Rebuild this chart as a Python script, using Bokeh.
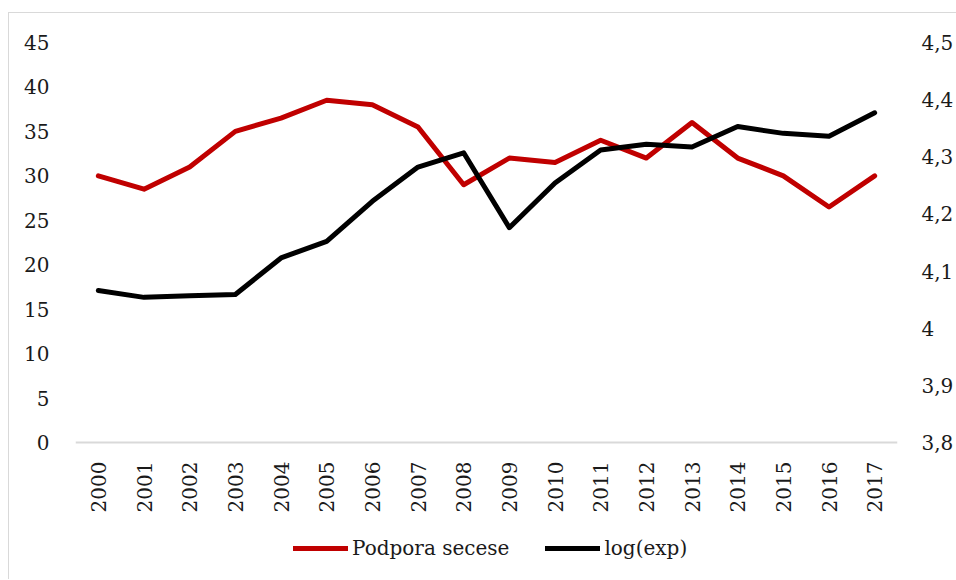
from bokeh.plotting import figure
from bokeh.models import (FactorRange, Range1d, LinearAxis, CategoricalAxis, FixedTicker,
                          CustomJSTickFormatter, Legend, LegendItem, ColumnDataSource)
from bokeh.embed import file_html
from bokeh.resources import INLINE

years = [str(y) for y in range(2000, 2018)]
podpora = [30, 28.5, 31, 35, 36.5, 38.5, 38, 35.5, 29, 32, 31.5, 34, 32, 36, 32, 30, 26.5, 30]
logexp = [4.066, 4.054, 4.057, 4.059, 4.123, 4.152, 4.222, 4.282, 4.307, 4.176, 4.254,
          4.312, 4.322, 4.317, 4.353, 4.341, 4.336, 4.377]
left_ticks = [0, 5, 10, 15, 20, 25, 30, 35, 40, 45]
right_ticks = [3.8, 3.9, 4.0, 4.1, 4.2, 4.3, 4.4, 4.5]

FONT = "DejaVu Serif"
FS = "20px"
TXT = "#1a1a1a"

# frame extends below the value axis baseline to host the rotated year labels and legend
L_MIN, L_MAX = -14.625, 45
R_MIN, R_MAX = 3.5725, 4.5

src = ColumnDataSource(dict(year=years, podpora=podpora, logexp=logexp))

p = figure(frame_width=822, frame_height=530, x_range=FactorRange(*years, range_padding=0),
           y_range=Range1d(L_MIN, L_MAX), output_backend="svg", toolbar_location=None,
           x_axis_location=None,
           min_border_left=66, min_border_right=58, min_border_top=29, min_border_bottom=7)
p.extra_y_ranges = {"r": Range1d(R_MIN, R_MAX)}
p.styles = {"border-left": "1px solid #d9d9d9", "border-top": "1px solid #d9d9d9",
            "margin-left": "8px", "margin-top": "12px"}

p.outline_line_color = None
p.xgrid.grid_line_color = None
p.ygrid.grid_line_color = None

r1 = p.line("year", "podpora", source=src, line_color="#C00000", line_width=5,
            line_cap="round", line_join="round")
r2 = p.line("year", "logexp", source=src, y_range_name="r", line_color="#000000", line_width=5,
            line_cap="round", line_join="round")

# left axis
ya = p.yaxis[0]
ya.ticker = FixedTicker(ticks=left_ticks)
ya.axis_line_color = None
ya.major_tick_line_color = None
ya.minor_tick_line_color = None
ya.major_label_standoff = 20
ya.major_label_text_font = FONT
ya.major_label_text_font_size = FS
ya.major_label_text_color = TXT

# right axis
ra = LinearAxis(y_range_name="r", ticker=FixedTicker(ticks=right_ticks),
                formatter=CustomJSTickFormatter(code="""
                    var s = tick.toFixed(1).replace('.', ',');
                    if (s.endsWith(',0')) { s = s.slice(0, -2); }
                    return s;"""))
ra.axis_line_color = None
ra.major_tick_line_color = None
ra.minor_tick_line_color = None
ra.major_label_standoff = 18
ra.major_label_text_font = FONT
ra.major_label_text_font_size = FS
ra.major_label_text_color = TXT
p.add_layout(ra, "right")

# x axis placed at value 0 of the left scale
xa = CategoricalAxis(fixed_location=0)
xa.axis_line_color = "#d9d9d9"
xa.axis_line_width = 2
xa.major_tick_line_color = None
xa.minor_tick_line_color = None
xa.major_label_orientation = 1.5707963
xa.major_label_standoff = 13
xa.major_label_text_font = FONT
xa.major_label_text_font_size = FS
xa.major_label_text_color = TXT
p.add_layout(xa, "below")

legend = Legend(items=[LegendItem(label="Podpora secese", renderers=[r1]),
                       LegendItem(label="log(exp)", renderers=[r2])],
                orientation="horizontal", location=(218, 12),
                glyph_width=55, glyph_height=20, label_height=20, label_standoff=4, spacing=36,
                label_text_font=FONT, label_text_font_size=FS, label_text_color=TXT,
                border_line_color=None, background_fill_alpha=0, margin=0, padding=0)
p.add_layout(legend, "center")

open("out.html", "w").write(file_html(p, INLINE))
